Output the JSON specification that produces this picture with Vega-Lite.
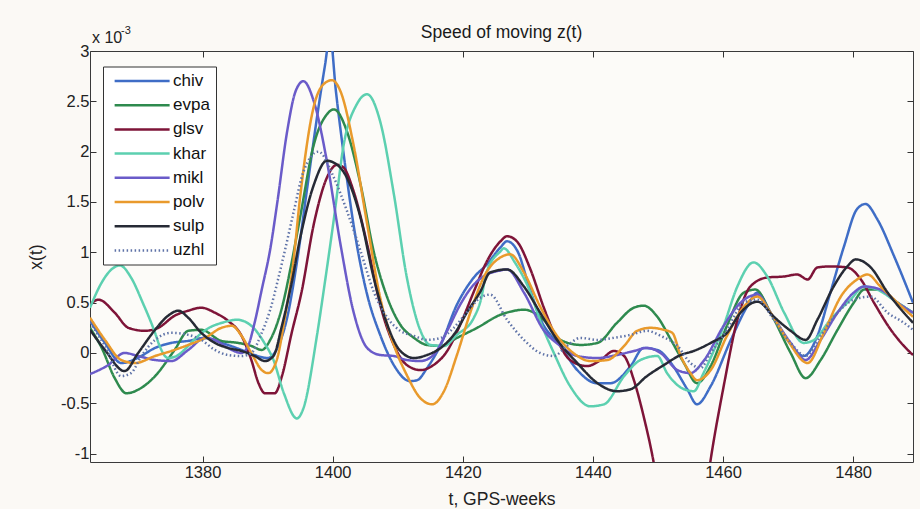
{
"$schema": "https://vega.github.io/schema/vega-lite/v6.json",
"width": 823, "height": 411,
"autosize": {"type": "none"},
"padding": {"left": 90, "top": 51, "right": 7, "bottom": 47},
"background": "#fbf9f5",
"title": {"text": "Speed of moving z(t)", "fontSize": 17.5, "fontWeight": "normal", "font": "Liberation Sans", "color": "#1a1a1a", "offset": -16, "anchor": "middle"},
"config": {"view": {"stroke": "#3a3a3a", "strokeWidth": 1, "fill": "#fcfbf8"}, "font": "Liberation Sans"},
"data": {"values": [
{"s":"chiv","t":1362.7,"v":0.32},{"s":"chiv","t":1365,"v":0.1},{"s":"chiv","t":1367.5,"v":-0.1},{"s":"chiv","t":1370,"v":-0.05},{"s":"chiv","t":1372.7,"v":0.05},{"s":"chiv","t":1375.2,"v":0.1},{"s":"chiv","t":1377.8,"v":0.12},{"s":"chiv","t":1380.4,"v":0.15},{"s":"chiv","t":1383,"v":0.1},{"s":"chiv","t":1386,"v":0.03},{"s":"chiv","t":1388,"v":-0.02},{"s":"chiv","t":1390,"v":-0.05},{"s":"chiv","t":1391.5,"v":0.05},{"s":"chiv","t":1393,"v":0.35},{"s":"chiv","t":1394.5,"v":0.9},{"s":"chiv","t":1396,"v":1.6},{"s":"chiv","t":1397.5,"v":2.3},{"s":"chiv","t":1398.8,"v":2.85},{"s":"chiv","t":1399.6,"v":3.15},{"s":"chiv","t":1400.5,"v":2.6},{"s":"chiv","t":1401.7,"v":1.97},{"s":"chiv","t":1403.7,"v":1.08},{"s":"chiv","t":1405.3,"v":0.58},{"s":"chiv","t":1407.3,"v":0.18},{"s":"chiv","t":1409.4,"v":-0.12},{"s":"chiv","t":1411.9,"v":-0.28},{"s":"chiv","t":1413,"v":-0.27},{"s":"chiv","t":1414.5,"v":-0.15},{"s":"chiv","t":1416.6,"v":0.08},{"s":"chiv","t":1419.1,"v":0.48},{"s":"chiv","t":1421.7,"v":0.75},{"s":"chiv","t":1423.7,"v":0.88},{"s":"chiv","t":1425.8,"v":1.05},{"s":"chiv","t":1426.8,"v":1.11},{"s":"chiv","t":1428.5,"v":1.0},{"s":"chiv","t":1430,"v":0.7},{"s":"chiv","t":1432,"v":0.33},{"s":"chiv","t":1435,"v":0.07},{"s":"chiv","t":1437.6,"v":-0.17},{"s":"chiv","t":1440.6,"v":-0.3},{"s":"chiv","t":1442.7,"v":-0.3},{"s":"chiv","t":1445.8,"v":-0.13},{"s":"chiv","t":1447.8,"v":0.05},{"s":"chiv","t":1449.9,"v":0.03},{"s":"chiv","t":1452,"v":-0.1},{"s":"chiv","t":1454.5,"v":-0.36},{"s":"chiv","t":1456,"v":-0.51},{"s":"chiv","t":1458.1,"v":-0.33},{"s":"chiv","t":1461.2,"v":0.13},{"s":"chiv","t":1463.7,"v":0.46},{"s":"chiv","t":1465.3,"v":0.6},{"s":"chiv","t":1467.3,"v":0.4},{"s":"chiv","t":1469.9,"v":0.13},{"s":"chiv","t":1472.4,"v":-0.03},{"s":"chiv","t":1474.5,"v":0.17},{"s":"chiv","t":1476.5,"v":0.6},{"s":"chiv","t":1478.6,"v":1.06},{"s":"chiv","t":1480.6,"v":1.43},{"s":"chiv","t":1481.9,"v":1.48},{"s":"chiv","t":1483.7,"v":1.33},{"s":"chiv","t":1486.3,"v":0.96},{"s":"chiv","t":1489.2,"v":0.5},
{"s":"evpa","t":1362.7,"v":0.25},{"s":"evpa","t":1364.5,"v":0.05},{"s":"evpa","t":1366.5,"v":-0.25},{"s":"evpa","t":1368.3,"v":-0.4},{"s":"evpa","t":1370.5,"v":-0.35},{"s":"evpa","t":1372.7,"v":-0.23},{"s":"evpa","t":1375.7,"v":0.03},{"s":"evpa","t":1377.8,"v":0.22},{"s":"evpa","t":1379.8,"v":0.23},{"s":"evpa","t":1382.9,"v":0.12},{"s":"evpa","t":1385.5,"v":0.1},{"s":"evpa","t":1387.5,"v":0.07},{"s":"evpa","t":1389.1,"v":0.03},{"s":"evpa","t":1390.4,"v":0.13},{"s":"evpa","t":1392.2,"v":0.45},{"s":"evpa","t":1393.7,"v":0.9},{"s":"evpa","t":1395,"v":1.35},{"s":"evpa","t":1397.1,"v":2.07},{"s":"evpa","t":1399.1,"v":2.37},{"s":"evpa","t":1400.2,"v":2.42},{"s":"evpa","t":1402.2,"v":2.2},{"s":"evpa","t":1404.3,"v":1.67},{"s":"evpa","t":1406.3,"v":1.01},{"s":"evpa","t":1408.4,"v":0.55},{"s":"evpa","t":1410.4,"v":0.28},{"s":"evpa","t":1412.5,"v":0.15},{"s":"evpa","t":1414.5,"v":0.08},{"s":"evpa","t":1416.6,"v":0.07},{"s":"evpa","t":1419.1,"v":0.15},{"s":"evpa","t":1422.2,"v":0.25},{"s":"evpa","t":1425.8,"v":0.38},{"s":"evpa","t":1427.3,"v":0.41},{"s":"evpa","t":1429.4,"v":0.43},{"s":"evpa","t":1432.4,"v":0.33},{"s":"evpa","t":1435,"v":0.13},{"s":"evpa","t":1438.1,"v":0.08},{"s":"evpa","t":1440.7,"v":0.1},{"s":"evpa","t":1443.7,"v":0.3},{"s":"evpa","t":1446.3,"v":0.45},{"s":"evpa","t":1447.8,"v":0.47},{"s":"evpa","t":1449.9,"v":0.36},{"s":"evpa","t":1452,"v":0.13},{"s":"evpa","t":1454,"v":-0.1},{"s":"evpa","t":1456,"v":-0.3},{"s":"evpa","t":1458.1,"v":-0.13},{"s":"evpa","t":1460.6,"v":0.27},{"s":"evpa","t":1463.2,"v":0.6},{"s":"evpa","t":1465,"v":0.63},{"s":"evpa","t":1467.3,"v":0.4},{"s":"evpa","t":1470.4,"v":0},{"s":"evpa","t":1472.7,"v":-0.25},{"s":"evpa","t":1475,"v":-0.07},{"s":"evpa","t":1477.6,"v":0.23},{"s":"evpa","t":1480.1,"v":0.5},{"s":"evpa","t":1481.7,"v":0.63},{"s":"evpa","t":1483.7,"v":0.63},{"s":"evpa","t":1486.8,"v":0.5},{"s":"evpa","t":1489.2,"v":0.4},
{"s":"glsv","t":1362.7,"v":0.48},{"s":"glsv","t":1364,"v":0.53},{"s":"glsv","t":1366.5,"v":0.4},{"s":"glsv","t":1368.6,"v":0.25},{"s":"glsv","t":1371.1,"v":0.22},{"s":"glsv","t":1373.2,"v":0.25},{"s":"glsv","t":1375.7,"v":0.37},{"s":"glsv","t":1377.8,"v":0.42},{"s":"glsv","t":1379.8,"v":0.45},{"s":"glsv","t":1381.9,"v":0.4},{"s":"glsv","t":1383.9,"v":0.32},{"s":"glsv","t":1386,"v":0.17},{"s":"glsv","t":1387.5,"v":-0.07},{"s":"glsv","t":1388.6,"v":-0.3},{"s":"glsv","t":1389.6,"v":-0.4},{"s":"glsv","t":1391.1,"v":-0.4},{"s":"glsv","t":1392.2,"v":-0.23},{"s":"glsv","t":1393.7,"v":0.2},{"s":"glsv","t":1395.2,"v":0.6},{"s":"glsv","t":1397.1,"v":1.28},{"s":"glsv","t":1399.1,"v":1.74},{"s":"glsv","t":1400.7,"v":1.87},{"s":"glsv","t":1401.7,"v":1.84},{"s":"glsv","t":1403.2,"v":1.61},{"s":"glsv","t":1405.3,"v":1.08},{"s":"glsv","t":1407.3,"v":0.48},{"s":"glsv","t":1409.4,"v":0.08},{"s":"glsv","t":1411.4,"v":-0.12},{"s":"glsv","t":1413.5,"v":-0.17},{"s":"glsv","t":1415.5,"v":-0.12},{"s":"glsv","t":1417.6,"v":0.02},{"s":"glsv","t":1419.6,"v":0.28},{"s":"glsv","t":1421.7,"v":0.61},{"s":"glsv","t":1423.7,"v":0.91},{"s":"glsv","t":1425.8,"v":1.11},{"s":"glsv","t":1426.8,"v":1.16},{"s":"glsv","t":1428.3,"v":1.11},{"s":"glsv","t":1430.4,"v":0.83},{"s":"glsv","t":1432.4,"v":0.46},{"s":"glsv","t":1434.5,"v":0.13},{"s":"glsv","t":1436.5,"v":-0.07},{"s":"glsv","t":1439.1,"v":-0.13},{"s":"glsv","t":1441.2,"v":-0.07},{"s":"glsv","t":1443.2,"v":0.02},{"s":"glsv","t":1444.8,"v":-0.03},{"s":"glsv","t":1446.3,"v":-0.27},{"s":"glsv","t":1447.8,"v":-0.63},{"s":"glsv","t":1449.4,"v":-1.11},{"s":"glsv","t":1451,"v":-1.8},{"s":"glsv","t":1453,"v":-2.5},{"s":"glsv","t":1455,"v":-2.4},{"s":"glsv","t":1456.7,"v":-1.7},{"s":"glsv","t":1458.1,"v":-1.06},{"s":"glsv","t":1460.1,"v":-0.33},{"s":"glsv","t":1462.2,"v":0.33},{"s":"glsv","t":1464.2,"v":0.66},{"s":"glsv","t":1466.8,"v":0.75},{"s":"glsv","t":1469.4,"v":0.76},{"s":"glsv","t":1471.4,"v":0.78},{"s":"glsv","t":1473,"v":0.73},{"s":"glsv","t":1474.5,"v":0.85},{"s":"glsv","t":1476.5,"v":0.86},{"s":"glsv","t":1479.1,"v":0.85},{"s":"glsv","t":1481.2,"v":0.73},{"s":"glsv","t":1483.2,"v":0.5},{"s":"glsv","t":1485.8,"v":0.23},{"s":"glsv","t":1487.8,"v":0.07},{"s":"glsv","t":1489.2,"v":-0.02},
{"s":"khar","t":1362.7,"v":0.45},{"s":"khar","t":1364.5,"v":0.7},{"s":"khar","t":1366,"v":0.83},{"s":"khar","t":1367.3,"v":0.87},{"s":"khar","t":1369,"v":0.75},{"s":"khar","t":1370.8,"v":0.5},{"s":"khar","t":1372.7,"v":0.2},{"s":"khar","t":1373.4,"v":0.07},{"s":"khar","t":1374.7,"v":-0.05},{"s":"khar","t":1376,"v":-0.03},{"s":"khar","t":1377.5,"v":0.05},{"s":"khar","t":1379,"v":0.15},{"s":"khar","t":1381,"v":0.25},{"s":"khar","t":1383,"v":0.3},{"s":"khar","t":1385.3,"v":0.33},{"s":"khar","t":1387.5,"v":0.27},{"s":"khar","t":1389.5,"v":0.1},{"s":"khar","t":1390.9,"v":-0.07},{"s":"khar","t":1392.5,"v":-0.4},{"s":"khar","t":1394.5,"v":-0.65},{"s":"khar","t":1395.5,"v":-0.55},{"s":"khar","t":1397.6,"v":0.18},{"s":"khar","t":1398.8,"v":0.7},{"s":"khar","t":1400.2,"v":1.34},{"s":"khar","t":1401.7,"v":2.07},{"s":"khar","t":1403.7,"v":2.47},{"s":"khar","t":1405.3,"v":2.57},{"s":"khar","t":1407.3,"v":2.3},{"s":"khar","t":1409.4,"v":1.58},{"s":"khar","t":1411.4,"v":0.75},{"s":"khar","t":1413.5,"v":0.22},{"s":"khar","t":1415,"v":0.08},{"s":"khar","t":1417.1,"v":0.07},{"s":"khar","t":1419.1,"v":0.18},{"s":"khar","t":1421.7,"v":0.35},{"s":"khar","t":1422.7,"v":0.51},{"s":"khar","t":1423.7,"v":0.81},{"s":"khar","t":1425.8,"v":1.01},{"s":"khar","t":1426.3,"v":1.04},{"s":"khar","t":1428,"v":0.9},{"s":"khar","t":1430.4,"v":0.6},{"s":"khar","t":1432,"v":0.3},{"s":"khar","t":1434,"v":0},{"s":"khar","t":1436.5,"v":-0.33},{"s":"khar","t":1439.6,"v":-0.53},{"s":"khar","t":1441.7,"v":-0.51},{"s":"khar","t":1444.8,"v":-0.23},{"s":"khar","t":1447.3,"v":-0.07},{"s":"khar","t":1449.9,"v":-0.03},{"s":"khar","t":1451.4,"v":-0.2},{"s":"khar","t":1454,"v":-0.36},{"s":"khar","t":1455.5,"v":-0.38},{"s":"khar","t":1457,"v":-0.2},{"s":"khar","t":1460.1,"v":0.27},{"s":"khar","t":1462.2,"v":0.66},{"s":"khar","t":1464.7,"v":0.9},{"s":"khar","t":1466.8,"v":0.76},{"s":"khar","t":1469.4,"v":0.4},{"s":"khar","t":1472.4,"v":0.1},{"s":"khar","t":1474,"v":0.13},{"s":"khar","t":1476.5,"v":0.33},{"s":"khar","t":1479.6,"v":0.53},{"s":"khar","t":1481.7,"v":0.66},{"s":"khar","t":1483.7,"v":0.63},{"s":"khar","t":1486.8,"v":0.5},{"s":"khar","t":1489.2,"v":0.4},
{"s":"mikl","t":1362.7,"v":-0.21},{"s":"mikl","t":1365.5,"v":-0.12},{"s":"mikl","t":1368,"v":0},{"s":"mikl","t":1370.1,"v":-0.03},{"s":"mikl","t":1372.7,"v":-0.07},{"s":"mikl","t":1375.2,"v":-0.08},{"s":"mikl","t":1377.8,"v":0.03},{"s":"mikl","t":1380.4,"v":0.15},{"s":"mikl","t":1381.9,"v":0.13},{"s":"mikl","t":1383.9,"v":0.05},{"s":"mikl","t":1386,"v":0},{"s":"mikl","t":1387,"v":0.07},{"s":"mikl","t":1388,"v":0.3},{"s":"mikl","t":1389.1,"v":0.63},{"s":"mikl","t":1390.4,"v":1.03},{"s":"mikl","t":1391.5,"v":1.5},{"s":"mikl","t":1393,"v":2.2},{"s":"mikl","t":1394.3,"v":2.6},{"s":"mikl","t":1395.5,"v":2.7},{"s":"mikl","t":1397.1,"v":2.5},{"s":"mikl","t":1399.1,"v":1.91},{"s":"mikl","t":1401.2,"v":1.08},{"s":"mikl","t":1403.2,"v":0.41},{"s":"mikl","t":1405.3,"v":0.05},{"s":"mikl","t":1407.3,"v":-0.02},{"s":"mikl","t":1409.4,"v":-0.03},{"s":"mikl","t":1411.4,"v":-0.07},{"s":"mikl","t":1413.5,"v":-0.08},{"s":"mikl","t":1415.5,"v":-0.02},{"s":"mikl","t":1417.6,"v":0.22},{"s":"mikl","t":1419.6,"v":0.48},{"s":"mikl","t":1421.7,"v":0.68},{"s":"mikl","t":1423.7,"v":0.78},{"s":"mikl","t":1425.8,"v":0.82},{"s":"mikl","t":1426.8,"v":0.83},{"s":"mikl","t":1429.4,"v":0.6},{"s":"mikl","t":1432.4,"v":0.23},{"s":"mikl","t":1435,"v":0.07},{"s":"mikl","t":1437.6,"v":-0.03},{"s":"mikl","t":1440.7,"v":-0.05},{"s":"mikl","t":1443.7,"v":-0.02},{"s":"mikl","t":1446.3,"v":0.02},{"s":"mikl","t":1448.3,"v":0.05},{"s":"mikl","t":1450.4,"v":0},{"s":"mikl","t":1453,"v":-0.17},{"s":"mikl","t":1455,"v":-0.2},{"s":"mikl","t":1457,"v":-0.08},{"s":"mikl","t":1460.1,"v":0.27},{"s":"mikl","t":1462.7,"v":0.5},{"s":"mikl","t":1465.3,"v":0.58},{"s":"mikl","t":1467.3,"v":0.4},{"s":"mikl","t":1470.4,"v":0.1},{"s":"mikl","t":1472.7,"v":-0.07},{"s":"mikl","t":1475,"v":0.13},{"s":"mikl","t":1477.6,"v":0.4},{"s":"mikl","t":1480.1,"v":0.6},{"s":"mikl","t":1481.7,"v":0.66},{"s":"mikl","t":1484.2,"v":0.63},{"s":"mikl","t":1486.8,"v":0.5},{"s":"mikl","t":1489.2,"v":0.4},
{"s":"polv","t":1362.7,"v":0.35},{"s":"polv","t":1365,"v":0.13},{"s":"polv","t":1367.5,"v":-0.07},{"s":"polv","t":1369.6,"v":-0.1},{"s":"polv","t":1372.7,"v":-0.03},{"s":"polv","t":1375.2,"v":0.02},{"s":"polv","t":1377.8,"v":0.08},{"s":"polv","t":1380.4,"v":0.15},{"s":"polv","t":1382.9,"v":0.25},{"s":"polv","t":1384.5,"v":0.27},{"s":"polv","t":1386,"v":0.17},{"s":"polv","t":1387.5,"v":0},{"s":"polv","t":1389.1,"v":-0.17},{"s":"polv","t":1390.1,"v":-0.2},{"s":"polv","t":1391.4,"v":-0.07},{"s":"polv","t":1392.7,"v":0.37},{"s":"polv","t":1393.9,"v":0.87},{"s":"polv","t":1395,"v":1.55},{"s":"polv","t":1397.1,"v":2.45},{"s":"polv","t":1398.6,"v":2.67},{"s":"polv","t":1399.9,"v":2.71},{"s":"polv","t":1401.2,"v":2.6},{"s":"polv","t":1403.2,"v":2.07},{"s":"polv","t":1405.3,"v":1.28},{"s":"polv","t":1407.3,"v":0.55},{"s":"polv","t":1409.4,"v":0.08},{"s":"polv","t":1411.4,"v":-0.22},{"s":"polv","t":1413.5,"v":-0.45},{"s":"polv","t":1415.3,"v":-0.51},{"s":"polv","t":1417.1,"v":-0.38},{"s":"polv","t":1419.1,"v":-0.02},{"s":"polv","t":1421.2,"v":0.41},{"s":"polv","t":1423.2,"v":0.75},{"s":"polv","t":1425.8,"v":0.95},{"s":"polv","t":1427.3,"v":0.98},{"s":"polv","t":1429.4,"v":0.8},{"s":"polv","t":1431.9,"v":0.46},{"s":"polv","t":1434.5,"v":0.17},{"s":"polv","t":1437,"v":0},{"s":"polv","t":1439.6,"v":-0.08},{"s":"polv","t":1442.2,"v":-0.07},{"s":"polv","t":1444.8,"v":0.07},{"s":"polv","t":1446.8,"v":0.22},{"s":"polv","t":1448.9,"v":0.25},{"s":"polv","t":1450.9,"v":0.23},{"s":"polv","t":1452.2,"v":0.2},{"s":"polv","t":1453.5,"v":-0.03},{"s":"polv","t":1455,"v":-0.2},{"s":"polv","t":1456,"v":-0.27},{"s":"polv","t":1458.1,"v":-0.17},{"s":"polv","t":1460.6,"v":0.17},{"s":"polv","t":1463.2,"v":0.46},{"s":"polv","t":1465.3,"v":0.56},{"s":"polv","t":1467.3,"v":0.4},{"s":"polv","t":1469.9,"v":0.13},{"s":"polv","t":1473,"v":-0.1},{"s":"polv","t":1475.5,"v":0.2},{"s":"polv","t":1478.1,"v":0.56},{"s":"polv","t":1480.6,"v":0.73},{"s":"polv","t":1482.2,"v":0.78},{"s":"polv","t":1484.2,"v":0.66},{"s":"polv","t":1486.8,"v":0.5},{"s":"polv","t":1489.2,"v":0.36},
{"s":"sulp","t":1362.7,"v":0.23},{"s":"sulp","t":1365,"v":0.03},{"s":"sulp","t":1368,"v":-0.18},{"s":"sulp","t":1370.1,"v":0},{"s":"sulp","t":1372.7,"v":0.23},{"s":"sulp","t":1374.7,"v":0.37},{"s":"sulp","t":1376.3,"v":0.42},{"s":"sulp","t":1377.8,"v":0.35},{"s":"sulp","t":1379.8,"v":0.2},{"s":"sulp","t":1381.9,"v":0.1},{"s":"sulp","t":1383.9,"v":0.05},{"s":"sulp","t":1386,"v":0.02},{"s":"sulp","t":1388,"v":-0.03},{"s":"sulp","t":1389.6,"v":-0.08},{"s":"sulp","t":1390.9,"v":-0.03},{"s":"sulp","t":1392.2,"v":0.27},{"s":"sulp","t":1393.7,"v":0.7},{"s":"sulp","t":1395,"v":1.14},{"s":"sulp","t":1397.1,"v":1.67},{"s":"sulp","t":1399.1,"v":1.91},{"s":"sulp","t":1400.2,"v":1.89},{"s":"sulp","t":1402.2,"v":1.74},{"s":"sulp","t":1404.3,"v":1.34},{"s":"sulp","t":1406.3,"v":0.75},{"s":"sulp","t":1408.4,"v":0.28},{"s":"sulp","t":1410.4,"v":0.02},{"s":"sulp","t":1412.5,"v":-0.05},{"s":"sulp","t":1414.5,"v":-0.02},{"s":"sulp","t":1416.6,"v":0.05},{"s":"sulp","t":1418.6,"v":0.18},{"s":"sulp","t":1420.7,"v":0.41},{"s":"sulp","t":1422.7,"v":0.61},{"s":"sulp","t":1424.2,"v":0.8},{"s":"sulp","t":1426.8,"v":0.83},{"s":"sulp","t":1429.4,"v":0.66},{"s":"sulp","t":1431.9,"v":0.4},{"s":"sulp","t":1434.5,"v":0.13},{"s":"sulp","t":1437.6,"v":-0.1},{"s":"sulp","t":1440.7,"v":-0.3},{"s":"sulp","t":1443.7,"v":-0.38},{"s":"sulp","t":1445.8,"v":-0.36},{"s":"sulp","t":1448.3,"v":-0.23},{"s":"sulp","t":1450.9,"v":-0.12},{"s":"sulp","t":1453.5,"v":-0.02},{"s":"sulp","t":1455.5,"v":0.02},{"s":"sulp","t":1458.1,"v":0.1},{"s":"sulp","t":1460.6,"v":0.2},{"s":"sulp","t":1462.7,"v":0.4},{"s":"sulp","t":1465.3,"v":0.51},{"s":"sulp","t":1467.8,"v":0.36},{"s":"sulp","t":1470.4,"v":0.22},{"s":"sulp","t":1472.7,"v":0.13},{"s":"sulp","t":1474.5,"v":0.33},{"s":"sulp","t":1477,"v":0.66},{"s":"sulp","t":1479.1,"v":0.86},{"s":"sulp","t":1480.4,"v":0.93},{"s":"sulp","t":1482.7,"v":0.85},{"s":"sulp","t":1485.3,"v":0.6},{"s":"sulp","t":1487.8,"v":0.4},{"s":"sulp","t":1489.2,"v":0.3},
{"s":"uzhl","t":1362.7,"v":0.3},{"s":"uzhl","t":1365,"v":0.07},{"s":"uzhl","t":1367.5,"v":-0.23},{"s":"uzhl","t":1369,"v":-0.2},{"s":"uzhl","t":1370.6,"v":-0.03},{"s":"uzhl","t":1372.7,"v":0.13},{"s":"uzhl","t":1375.2,"v":0.2},{"s":"uzhl","t":1377.8,"v":0.18},{"s":"uzhl","t":1379.8,"v":0.13},{"s":"uzhl","t":1381.9,"v":0.03},{"s":"uzhl","t":1383.9,"v":-0.02},{"s":"uzhl","t":1386,"v":-0.03},{"s":"uzhl","t":1387.5,"v":0},{"s":"uzhl","t":1389.1,"v":0.2},{"s":"uzhl","t":1390.4,"v":0.43},{"s":"uzhl","t":1391.6,"v":0.73},{"s":"uzhl","t":1392.7,"v":1.03},{"s":"uzhl","t":1394,"v":1.4},{"s":"uzhl","t":1395.5,"v":1.8},{"s":"uzhl","t":1397.8,"v":2.0},{"s":"uzhl","t":1400.2,"v":1.74},{"s":"uzhl","t":1402.2,"v":1.41},{"s":"uzhl","t":1404.3,"v":1.01},{"s":"uzhl","t":1406.3,"v":0.61},{"s":"uzhl","t":1408.4,"v":0.35},{"s":"uzhl","t":1410.4,"v":0.22},{"s":"uzhl","t":1412.5,"v":0.17},{"s":"uzhl","t":1414.5,"v":0.13},{"s":"uzhl","t":1416.6,"v":0.15},{"s":"uzhl","t":1418.6,"v":0.25},{"s":"uzhl","t":1420.7,"v":0.41},{"s":"uzhl","t":1422.7,"v":0.55},{"s":"uzhl","t":1424.2,"v":0.58},{"s":"uzhl","t":1426.8,"v":0.33},{"s":"uzhl","t":1429.4,"v":0.13},{"s":"uzhl","t":1431.9,"v":0},{"s":"uzhl","t":1434,"v":-0.03},{"s":"uzhl","t":1436,"v":0.07},{"s":"uzhl","t":1438.1,"v":0.15},{"s":"uzhl","t":1440.7,"v":0.13},{"s":"uzhl","t":1443.2,"v":0.15},{"s":"uzhl","t":1445.8,"v":0.18},{"s":"uzhl","t":1448.3,"v":0.22},{"s":"uzhl","t":1450.4,"v":0.17},{"s":"uzhl","t":1453,"v":0.07},{"s":"uzhl","t":1455,"v":-0.1},{"s":"uzhl","t":1456.5,"v":-0.15},{"s":"uzhl","t":1458.1,"v":0},{"s":"uzhl","t":1460.6,"v":0.23},{"s":"uzhl","t":1463.2,"v":0.5},{"s":"uzhl","t":1465.3,"v":0.53},{"s":"uzhl","t":1467.8,"v":0.33},{"s":"uzhl","t":1470.4,"v":0.1},{"s":"uzhl","t":1472.7,"v":-0.03},{"s":"uzhl","t":1475,"v":0.17},{"s":"uzhl","t":1477.6,"v":0.4},{"s":"uzhl","t":1480.1,"v":0.53},{"s":"uzhl","t":1482.7,"v":0.56},{"s":"uzhl","t":1485.3,"v":0.4},{"s":"uzhl","t":1487.8,"v":0.3},{"s":"uzhl","t":1489.2,"v":0.23}
]},
"layer": [
{
"mark": {"type": "line", "clip": true, "strokeWidth": 2.5, "interpolate": "monotone"},
"encoding": {
"x": {"field": "t", "type": "quantitative", "scale": {"domain": [1362.7, 1489.2], "nice": false, "zero": false},
 "axis": {"orient": "bottom", "values": [1380, 1400, 1420, 1440, 1460, 1480], "format": "d", "grid": false, "domain": false, "ticks": true, "tickSize": -6, "tickColor": "#333", "labelFontSize": 16.5, "labelColor": "#222", "labelPadding": 8, "labelFont": "Liberation Sans", "title": "t, GPS-weeks", "titleFontSize": 17.5, "titleFontWeight": "normal", "titleColor": "#222", "titleFont": "Liberation Sans", "titlePadding": 10}},
"y": {"field": "v", "type": "quantitative", "scale": {"domain": [-1.083, 3], "nice": false, "zero": false},
 "axis": {"orient": "left", "values": [-1, -0.5, 0, 0.5, 1, 1.5, 2, 2.5, 3], "labelExpr": "'' + datum.value", "grid": false, "domain": false, "ticks": true, "tickSize": -6, "tickColor": "#333", "labelFontSize": 16.5, "labelColor": "#222", "labelPadding": 7, "labelFont": "Liberation Sans", "title": "x(t)", "titleFontSize": 17.5, "titleFontWeight": "normal", "titleColor": "#222", "titleFont": "Liberation Sans", "titlePadding": 15}},
"color": {"field": "s", "type": "nominal", "title": null,
 "scale": {"domain": ["chiv","evpa","glsv","khar","mikl","polv","sulp","uzhl"], "range": ["#3f6dc6","#2e8a4e","#7e1438","#5cd0b0","#6a5bc9","#e99a2c","#262a35","#5f73a8"]},
 "legend": {"orient": "none", "legendX": 13, "legendY": 15.5, "title": null, "symbolType": "M-1,0H7", "symbolSize": 189, "symbolStrokeWidth": 2.5, "labelFontSize": 17, "labelFont": "Liberation Sans", "labelColor": "#111", "labelOffset": 43, "padding": 6, "symbolOffset": 4, "rowPadding": 6.2, "strokeColor": "#333", "fillColor": "#ffffff", "cornerRadius": 0}},
"strokeDash": {"field": "s", "type": "nominal", "title": null,
 "scale": {"domain": ["chiv","evpa","glsv","khar","mikl","polv","sulp","uzhl"], "range": [[1,0],[1,0],[1,0],[1,0],[1,0],[1,0],[1,0],[1.5,2.5]]},
 "legend": {"orient": "none", "legendX": 13, "legendY": 15.5, "title": null, "symbolType": "M-1,0H7", "symbolSize": 189, "symbolStrokeWidth": 2.5, "labelFontSize": 17, "labelFont": "Liberation Sans", "labelColor": "#111", "labelOffset": 43, "padding": 6, "symbolOffset": 4, "rowPadding": 6.2, "strokeColor": "#333", "fillColor": "#ffffff", "cornerRadius": 0}}
}
},
{
"data": {"values": [{"label": "x 10"}]},
"mark": {"type": "text", "align": "left", "baseline": "alphabetic", "dx": 2, "dy": -8, "fontSize": 16, "font": "Liberation Sans", "color": "#222"},
"encoding": {
"text": {"field": "label", "type": "nominal"},
"x": {"datum": 1362.7, "type": "quantitative", "scale": {"domain": [1362.7, 1489.2], "nice": false, "zero": false},
 "axis": {"orient": "top", "values": [1380, 1400, 1420, 1440, 1460, 1480], "labels": false, "grid": false, "domain": false, "ticks": true, "tickSize": -6, "tickColor": "#333", "title": null}},
"y": {"datum": 3, "type": "quantitative", "scale": {"domain": [-1.083, 3], "nice": false, "zero": false},
 "axis": {"orient": "right", "values": [-1, -0.5, 0, 0.5, 1, 1.5, 2, 2.5, 3], "labels": false, "grid": false, "domain": false, "ticks": true, "tickSize": -6, "tickColor": "#333", "title": null}}
}
},
{
"data": {"values": [{"label": "-3"}]},
"mark": {"type": "text", "align": "left", "baseline": "alphabetic", "dx": 31, "dy": -17, "fontSize": 11, "font": "Liberation Sans", "color": "#222"},
"encoding": {
"text": {"field": "label", "type": "nominal"},
"x": {"datum": 1362.7, "type": "quantitative", "scale": {"domain": [1362.7, 1489.2], "nice": false, "zero": false}, "axis": null},
"y": {"datum": 3, "type": "quantitative", "scale": {"domain": [-1.083, 3], "nice": false, "zero": false}, "axis": null}
}
}
],
"resolve": {"axis": {"x": "independent", "y": "independent"}}
}
